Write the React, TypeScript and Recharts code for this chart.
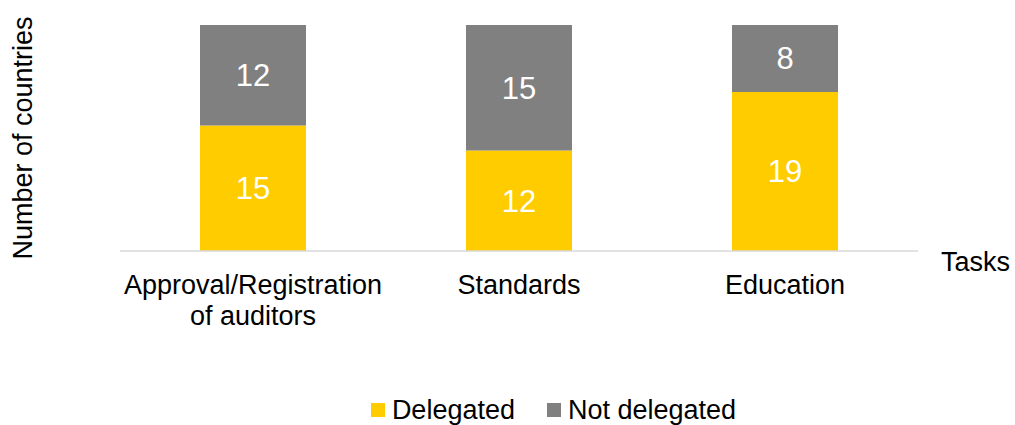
import React from "react";
import {
  BarChart,
  Bar,
  XAxis,
  YAxis,
  Legend,
  LabelList,
} from "recharts";

const tasks = ["Approval/Registration of auditors", "Standards", "Education"];
const delegated = [15, 12, 19];
const notDelegated = [12, 15, 8];
// how each task name is broken onto lines under the axis
const taskLines = [["Approval/Registration", "of auditors"], ["Standards"], ["Education"]];

const data = tasks.map((task, i) => ({
  task,
  delegated: delegated[i],
  notDelegated: notDelegated[i],
}));

const FONT = '"Liberation Sans", Arial, Helvetica, sans-serif';
const YELLOW = "#FFCC00";
const GREY = "#808080";

function TaskTick(props: any) {
  const { x, y, payload, index } = props;
  const lines = taskLines[index] || [payload.value];
  return (
    <text x={x} y={y + 43} textAnchor="middle" fontSize={27} fontFamily={FONT} fill="#000">
      {lines.map((line: string, i: number) => (
        <tspan key={i} x={x} dy={i === 0 ? 0 : 31}>
          {line}
        </tspan>
      ))}
    </text>
  );
}

function LegendContent() {
  const items = [
    { label: "Delegated", color: YELLOW },
    { label: "Not delegated", color: GREY },
  ];
  return (
    <div
      style={{
        display: "flex",
        justifyContent: "center",
        alignItems: "center",
        paddingLeft: 92,
        height: 30,
        fontFamily: FONT,
        fontSize: 27,
        color: "#000",
      }}
    >
      {items.map((it, i) => (
        <div key={it.label} style={{ display: "flex", alignItems: "center", marginLeft: i === 0 ? 0 : 32 }}>
          <span style={{ width: 14, height: 14, background: it.color, marginRight: 7, display: "inline-block" }} />
          <span>{it.label}</span>
        </div>
      ))}
    </div>
  );
}

export default function App() {
  return (
    <div style={{ position: "absolute", left: 0, top: 0, background: "#fff" }}>
      <BarChart
        width={1015}
        height={425}
        data={data}
        margin={{ top: 25, right: 97, left: 0, bottom: 0 }}
      >
        <XAxis
          dataKey="task"
          height={144}
          tickLine={false}
          tickSize={0}
          tickMargin={0}
          axisLine={{ stroke: "#D9D9D9", strokeWidth: 1.5 }}
          tick={<TaskTick />}
          interval={0}
          label={{
            content: (p: any) => {
              const vb = p.viewBox;
              return (
                <text x={vb.x + vb.width + 23} y={vb.y + 20} fontSize={27} fontFamily={FONT} fill="#000">
                  Tasks
                </text>
              );
            },
          }}
        />
        <YAxis
          width={120}
          domain={[0, 27]}
          axisLine={false}
          tickLine={false}
          tick={false}
          label={{
            value: "Number of countries",
            angle: -90,
            position: "center",
            dx: -38,
            fontSize: 27,
            fontFamily: FONT,
            fill: "#000",
          }}
        />
        <Legend
          verticalAlign="bottom"
          height={30}
          wrapperStyle={{ left: 0, width: 1015 }}
          content={<LegendContent />}
        />
        <Bar dataKey="delegated" name="Delegated" stackId="a" fill={YELLOW} barSize={106} isAnimationActive={false}>
          <LabelList dataKey="delegated" position="center" fill="#fff" fontSize={31} fontFamily={FONT} />
        </Bar>
        <Bar dataKey="notDelegated" name="Not delegated" stackId="a" fill={GREY} barSize={106} isAnimationActive={false}>
          <LabelList dataKey="notDelegated" position="center" fill="#fff" fontSize={31} fontFamily={FONT} />
        </Bar>
      </BarChart>
    </div>
  );
}
